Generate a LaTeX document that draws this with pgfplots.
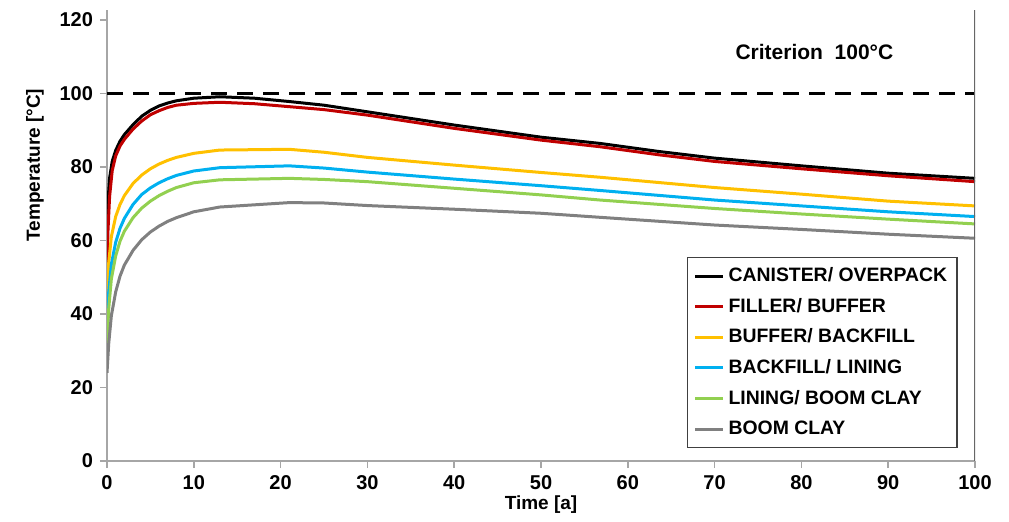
\documentclass[border=0pt]{standalone}
\usepackage{fontspec}
\setmainfont{Liberation Sans}
\usepackage{pgfplots}
\pgfplotsset{compat=1.18}
\usetikzlibrary{calc}

\definecolor{cred}{HTML}{C00000}
\definecolor{cyellow}{HTML}{FFC000}
\definecolor{cblue}{HTML}{00B0F0}
\definecolor{cgreen}{HTML}{92D050}
\definecolor{cgray}{HTML}{808080}
\definecolor{axgray}{HTML}{A6A6A6}

\begin{document}
\begin{tikzpicture}
\begin{axis}[
    scale only axis,
    width=434pt, height=225.5pt,
    xmin=0, xmax=100, ymin=0, ymax=122.7,
    xtick={0,10,...,100}, ytick={0,20,...,120},
    axis lines*=left,
    axis line style={color=axgray, line width=0.75pt},
    tick style={color=axgray, line width=0.75pt},
    tick align=outside, major tick length=3.5pt,
    tick label style={font=\bfseries\fontsize{10}{12}\selectfont},
    /pgf/number format/assume math mode=true,
    xlabel={Time [a]}, ylabel={Temperature [°C]},
    label style={font=\bfseries\fontsize{9.5}{11}\selectfont},
    xlabel style={at={(axis description cs:0.5,0)}, anchor=center, yshift=-22pt},
    ylabel style={at={(axis description cs:-0.083,0.656)}, anchor=center},
    legend style={at={(0.98,0.029)}, anchor=south east, draw=black!75,
        line width=0.6pt, font=\bfseries\fontsize{9.7}{11}\selectfont,
        row sep=2.8pt, inner sep=3pt},
    legend cell align=left,
    legend image code/.code={\draw[#1, line width=1.5pt] (0pt,0pt) -- (14pt,0pt);},
    every axis plot/.append style={line width=1.5pt, line join=round},
]
\addplot[black, dash pattern=on 8pt off 5pt, forget plot] coordinates {(0,100) (100,100)};

\addplot[black] coordinates {
    (0,62) (0.1,70) (0.3,77) (0.6,81.5) (1,84.5) (1.5,87) (2,88.8) (3,91.5)
    (4,93.8) (5,95.4) (6,96.6) (7,97.4) (8,98) (10,98.7) (13,99.1) (17,98.7)
    (21,97.8) (25,96.8) (30,95) (40,91.4) (50,88.1) (56.8,86.4) (63.6,84.2)
    (70,82.4) (80,80.3) (90,78.3) (100,76.9)
};
\addlegendentry{CANISTER/ OVERPACK}
\addplot[cred] coordinates {
    (0,49) (0.1,62) (0.3,72) (0.6,79) (1,83) (1.5,85.7) (2,87.5) (3,90.3)
    (4,92.5) (5,94.2) (6,95.3) (7,96.2) (8,96.8) (10,97.3) (13,97.6) (17,97.2)
    (21,96.4) (25,95.6) (30,94.1) (40,90.5) (50,87.3) (56.8,85.5) (63.6,83.3)
    (70,81.5) (80,79.5) (90,77.6) (100,76)
};
\addlegendentry{FILLER/ BUFFER}
\addplot[cyellow] coordinates {
    (0,45.7) (0.2,54) (0.5,61) (1,66.5) (1.5,69.8) (2,72.2) (3,75.5) (4,77.8)
    (5,79.5) (6,80.8) (7,81.8) (8,82.6) (10,83.7) (13,84.6) (21,84.8) (25,84)
    (30,82.6) (40,80.5) (50,78.5) (56.8,77.2) (70,74.4) (80,72.6) (90,70.7) (100,69.4)
};
\addlegendentry{BUFFER/ BACKFILL}
\addplot[cblue] coordinates {
    (0,36.5) (0.2,46) (0.5,53.5) (1,59.5) (1.5,63.3) (2,66) (3,69.8) (4,72.5)
    (5,74.3) (6,75.7) (7,76.8) (8,77.7) (10,78.9) (13,79.8) (21,80.3) (25,79.7)
    (30,78.6) (40,76.7) (50,74.9) (56.8,73.6) (70,71) (80,69.4) (90,67.8) (100,66.5)
};
\addlegendentry{BACKFILL/ LINING}
\addplot[cgreen] coordinates {
    (0,32) (0.2,41.5) (0.5,49.5) (1,55.8) (1.5,59.8) (2,62.5) (3,66.2) (4,68.8)
    (5,70.7) (6,72.2) (7,73.4) (8,74.4) (10,75.7) (13,76.5) (21,76.9) (25,76.6)
    (30,76) (40,74.2) (50,72.4) (56.8,71) (70,68.7) (80,67.2) (90,65.8) (100,64.5)
};
\addlegendentry{LINING/ BOOM CLAY}
\addplot[cgray] coordinates {
    (0,24) (0.2,32) (0.5,39.5) (1,46) (1.5,50.3) (2,53.3) (3,57.3) (4,60.2)
    (5,62.3) (6,63.9) (7,65.2) (8,66.2) (10,67.8) (13,69.1) (21,70.3) (25,70.2)
    (30,69.5) (40,68.5) (50,67.4) (56.8,66.3) (70,64.2) (80,63) (90,61.7) (100,60.6)
};
\addlegendentry{BOOM CLAY}

\draw[color=black!60, line width=0.75pt] (axis cs:100,0) -- (axis cs:100,122.7);
\node[font=\bfseries\fontsize{10.5}{12}\selectfont] at (axis cs:81.5,111.3) {Criterion\ \ 100°C};
\end{axis}
\pgfresetboundingbox
\path ($(current axis.south west)+(-53.5pt,-30pt)$) rectangle ($(current axis.north east)+(17pt,5pt)$);
\end{tikzpicture}
\end{document}
